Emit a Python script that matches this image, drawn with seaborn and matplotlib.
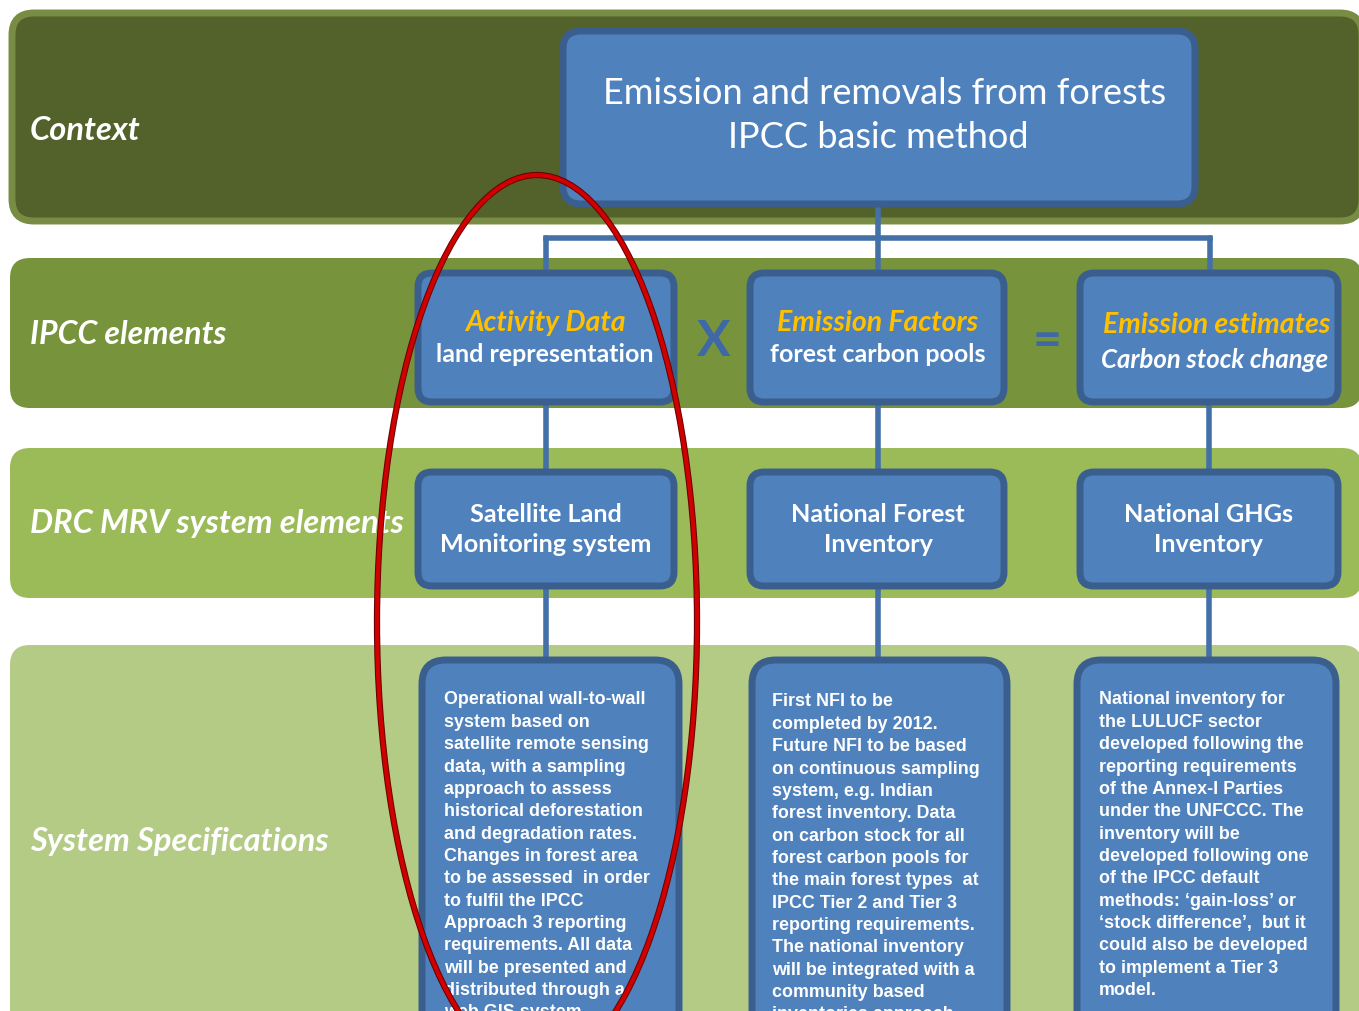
import matplotlib
matplotlib.use('Agg')
import matplotlib.pyplot as plt
import matplotlib.patheffects as pe
from matplotlib.patches import FancyBboxPatch, Ellipse
import seaborn as sns

# ---- diagram content ----
band_labels = ['Context', 'IPCC elements', 'DRC MRV system elements', 'System Specifications']
top_title = ['Emission and removals from forests', 'IPCC basic method']
ipcc_heads = ['Activity Data', 'Emission Factors', 'Emission estimates']
ipcc_subs = ['land representation', 'forest carbon pools', 'Carbon stock change']
operators = ['X', '=']
mrv_names = [['Satellite Land', 'Monitoring system'],
             ['National Forest', 'Inventory'],
             ['National GHGs', 'Inventory']]

spec_satellite = [
    'Operational wall-to-wall', 'system based on', 'satellite remote sensing',
    'data, with a sampling', 'approach to assess', 'historical deforestation',
    'and degradation rates.', 'Changes in forest area', 'to be assessed  in order',
    'to fulfil the IPCC', 'Approach 3 reporting', 'requirements. All data',
    'will be presented and', 'distributed through a', 'web GIS system.',
]
spec_nfi = [
    'First NFI to be', 'completed by 2012.', 'Future NFI to be based',
    'on continuous sampling', 'system, e.g. Indian', 'forest inventory. Data',
    'on carbon stock for all', 'forest carbon pools for', 'the main forest types  at',
    'IPCC Tier 2 and Tier 3', 'reporting requirements.', 'The national inventory',
    'will be integrated with a', 'community based', 'inventories approach.',
]
spec_ghg = [
    'National inventory for', 'the LULUCF sector', 'developed following the',
    'reporting requirements', 'of the Annex-I Parties', 'under the UNFCCC. The',
    'inventory will be', 'developed following one', 'of the IPCC default',
    'methods: \u2018gain-loss\u2019 or', '\u2018stock difference\u2019,  but it',
    'could also be developed', 'to implement a Tier 3', 'model.',
]
spec_texts = [spec_satellite, spec_nfi, spec_ghg]

# ---- layout (pixels, y downwards) ----
band_rows = [(10, 224), (258, 408), (448, 598), (645, 1040)]
band_colors = ['#52622A', '#77933C', '#9BBB59', '#B3CB84']
col_x = [(415, 677), (747, 1007), (1077, 1341)]
col_centers = [546, 878, 1209]
spec_cols = [(419, 682), (749, 1010), (1074, 1339)]
spec_text_x = [444, 772, 1099]
spec_first_y = [700, 702, 700]

BOX_FILL = '#4F81BD'
BOX_EDGE = '#3A5F8E'
LINE_COL = '#4470A8'
GOLD = '#FFC000'

sns.set_theme(style='white')
plt.rcParams['font.family'] = ['Lato', 'DejaVu Sans']

fig = plt.figure(figsize=(13.59, 10.11), dpi=100)
ax = fig.add_axes([0, 0, 1, 1])
ax.set_xlim(0, 1359)
ax.set_ylim(1011, 0)
ax.axis('off')


def rbox(x0, x1, y0, y1, fc, ec='none', lw=0, r=14, z=2):
    p = FancyBboxPatch((x0, y0), x1 - x0, y1 - y0,
                       boxstyle=f'round,pad=0,rounding_size={r}',
                       fc=fc, ec=ec, lw=lw, zorder=z)
    ax.add_patch(p)


# bands
for i, (y0, y1) in enumerate(band_rows):
    if i == 0:
        rbox(12, 1362, y0 + 3, y1 - 3, band_colors[0], ec='#788D43', lw=5, r=22, z=1)
    else:
        rbox(10, 1362, y0, y1, band_colors[i], r=20, z=1)

label_y = [131, 334, 524, 842]
label_size = [23.5, 23, 23.5, 23.5]
for lab, y, fs in zip(band_labels, label_y, label_size):
    ax.text(30, y, lab, color='white', fontsize=fs, fontweight='bold', style='italic',
            va='center', ha='left', zorder=3)

# connectors
lw_line = 4
ax.plot([878, 878], [207, 238], color=LINE_COL, lw=lw_line, zorder=2)
ax.plot([546, 1210], [238, 238], color=LINE_COL, lw=lw_line, zorder=2, solid_capstyle='projecting')
for cx in [546, 878, 1210]:
    ax.plot([cx, cx], [238, 272], color=LINE_COL, lw=lw_line, zorder=2)
for cx in col_centers:
    ax.plot([cx, cx], [404, 470], color=LINE_COL, lw=lw_line, zorder=2)
    ax.plot([cx, cx], [588, 658], color=LINE_COL, lw=lw_line, zorder=2)

# top box
rbox(563, 1195, 31, 204, BOX_FILL, BOX_EDGE, lw=5, r=18, z=4)
ax.text(885, 94, top_title[0], color='white', fontsize=26, ha='center', va='center', zorder=5)
ax.text(878, 137, top_title[1], color='white', fontsize=26, ha='center', va='center', zorder=5)

# IPCC elements row
head_x = [545, 878, 1217]
for i, (x0, x1) in enumerate(col_x):
    rbox(x0 + 3, x1 - 3, 273, 402, BOX_FILL, BOX_EDGE, lw=5, r=14, z=4)
    if i == 2:
        ax.text(head_x[i], 325, ipcc_heads[i], color=GOLD, fontsize=20.5, fontweight='bold',
                style='italic', ha='center', va='center', zorder=5)
        ax.text(head_x[i] - 2, 360, ipcc_subs[i], color='white', fontsize=18.5, fontweight='bold',
                style='italic', ha='center', va='center', zorder=5)
    else:
        ax.text(head_x[i], 323, ipcc_heads[i], color=GOLD, fontsize=20.5, fontweight='bold',
                style='italic', ha='center', va='center', zorder=5)
        ax.text(head_x[i], 355, ipcc_subs[i], color='white', fontsize=18, fontweight='bold',
                ha='center', va='center', zorder=5)

ax.text(714, 341, operators[0], color='#3E68A6', fontsize=36, fontweight='bold',
        ha='center', va='center', zorder=3)
ax.text(1047, 341, operators[1], color='#3E68A6', fontsize=36, fontweight='bold',
        ha='center', va='center', zorder=3)

# MRV row
for i, (x0, x1) in enumerate(col_x):
    rbox(x0 + 3, x1 - 3, 472, 586, BOX_FILL, BOX_EDGE, lw=5, r=14, z=4)
    for k, line in enumerate(mrv_names[i]):
        ax.text(col_centers[i], 515 + k * 30, line, color='white', fontsize=18.2,
                fontweight='bold', ha='center', va='center', zorder=5)

# specification row
for i, (x0, x1) in enumerate(spec_cols):
    rbox(x0 + 3, x1 - 3, 660, 1060, BOX_FILL, BOX_EDGE, lw=5, r=24, z=4)
    for k, line in enumerate(spec_texts[i]):
        ax.text(spec_text_x[i], spec_first_y[i] + k * 22.35, line, color='white',
                fontsize=12.9, fontweight='bold', family='Liberation Sans',
                ha='left', va='center', zorder=5)

# red highlight ellipse
ell = Ellipse((537, 622), 320, 894, fill=False, ec='#D10000', lw=3, zorder=8,
              path_effects=[pe.Stroke(linewidth=4.5, foreground='#6A0000'), pe.Normal()])
ax.add_patch(ell)

fig.savefig('out.png', dpi=100)
